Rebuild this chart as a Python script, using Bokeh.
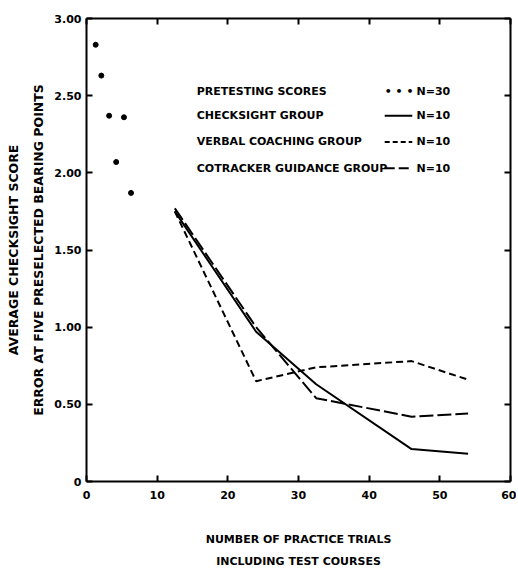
from bokeh.plotting import figure
from bokeh.models import (Range1d, FixedTicker, LinearAxis, Title, Label, Arrow,
                          CustomJSTickFormatter)
from bokeh.embed import file_html
from bokeh.resources import INLINE

# ---- data ----
pretest_trial = [1.3, 2.1, 3.2, 4.2, 5.3, 6.3]
pretest_score = [2.83, 2.63, 2.37, 2.07, 2.36, 1.87]
practice_trials = [12.5, 24, 32.5, 46, 54]
checksight = [1.75, 0.97, 0.63, 0.21, 0.18]
verbal = [1.75, 0.65, 0.74, 0.78, 0.66]
cotracker = [1.77, 1.00, 0.54, 0.42, 0.44]
x_ticks = [0, 10, 20, 30, 40, 50, 60]
y_ticks = [0, 0.5, 1.0, 1.5, 2.0, 2.5, 3.0]
legend_labels = ["PRETESTING SCORES", "CHECKSIGHT GROUP",
                 "VERBAL COACHING GROUP", "COTRACKER GUIDANCE GROUP"]
legend_counts = ["N=30", "N=10", "N=10", "N=10"]

FONT = "DejaVu Sans"

p = figure(frame_width=424, frame_height=463,
           x_range=Range1d(0, 60), y_range=Range1d(0, 3),
           output_backend="svg", toolbar_location=None,
           min_border_left=0, min_border_right=6, min_border_top=18,
           min_border_bottom=0, outline_line_color=None,
           background_fill_color="white", border_fill_color="white")
p.grid.visible = False

def style_axis(ax, labels=True):
    ax.axis_line_width = 2
    ax.axis_line_color = "black"
    ax.major_tick_line_width = 2
    ax.major_tick_line_color = "black"
    ax.major_tick_in = 6
    ax.major_tick_out = 0
    ax.minor_tick_line_color = None
    if labels:
        ax.major_label_text_font = FONT
        ax.major_label_text_font_style = "bold"
        ax.major_label_text_font_size = "11px"
        ax.major_label_text_color = "black"
    else:
        ax.formatter = CustomJSTickFormatter(code="return '';")
        ax.major_label_standoff = 0

xa = p.xaxis[0]
xa.ticker = FixedTicker(ticks=x_ticks)
style_axis(xa)
xa.major_label_standoff = 9
xa.axis_label = "NUMBER OF PRACTICE TRIALS"
xa.axis_label_standoff = 31
xa.axis_label_text_font = FONT
xa.axis_label_text_font_style = "bold"
xa.axis_label_text_font_size = "11px"
xa.axis_label_text_color = "black"

ya = p.yaxis[0]
ya.ticker = FixedTicker(ticks=y_ticks)
ya.formatter = CustomJSTickFormatter(code="return tick == 0 ? '0' : tick.toFixed(2);")
style_axis(ya)
ya.major_label_standoff = 5

top = LinearAxis(ticker=FixedTicker(ticks=x_ticks))
style_axis(top, labels=False)
p.add_layout(top, "above")
right = LinearAxis(ticker=FixedTicker(ticks=y_ticks))
style_axis(right, labels=False)
p.add_layout(right, "right")

# axis titles
def side_title(text, standoff, size):
    return Title(text=text, align="center", text_font=FONT, text_font_style="bold",
                 text_font_size=size, text_color="black", standoff=standoff)

p.add_layout(side_title("ERROR AT FIVE PRESELECTED BEARING POINTS", 11, "12.5px"), "left")
p.add_layout(side_title("AVERAGE CHECKSIGHT SCORE", 6, "12.5px"), "left")
p.add_layout(side_title("INCLUDING TEST COURSES", 8, "11px"), "below")

# data marks
p.scatter(pretest_trial, pretest_score, size=5, color="black")
p.line(practice_trials, checksight, line_width=2, color="black")
p.line(practice_trials, verbal, line_width=2, color="black", line_dash="7 4")
p.line(practice_trials, cotracker, line_width=2, color="black", line_dash="14 4")

# legend block (drawn as annotations)
leg_x, sym_x0, sym_x1, cnt_x = 15.6, 42.2, 46.1, 46.7
leg_rows = [2.53, 2.37, 2.20, 2.03]
for lab, cnt, yy in zip(legend_labels, legend_counts, leg_rows):
    p.add_layout(Label(x=leg_x, y=yy, text=lab, text_font=FONT, text_font_style="bold",
                       text_font_size="11px", text_baseline="middle", text_color="black"))
    p.add_layout(Label(x=cnt_x, y=yy, text=cnt, text_font=FONT, text_font_style="bold",
                       text_font_size="11px", text_baseline="middle", text_color="black"))

p.add_layout(Label(x=sym_x0, y=leg_rows[0], text="\u2022 \u2022 \u2022", text_font=FONT,
                   text_font_style="bold", text_font_size="11px", text_baseline="middle",
                   text_color="black"))
for dash, yy in zip([None, "5 3", "10 4"], leg_rows[1:]):
    kw = dict(end=None, x_start=sym_x0, y_start=yy, x_end=sym_x1, y_end=yy,
              line_width=2, line_color="black")
    if dash:
        kw["line_dash"] = dash
    p.add_layout(Arrow(**kw))

open("out.html", "w").write(file_html(p, INLINE))
